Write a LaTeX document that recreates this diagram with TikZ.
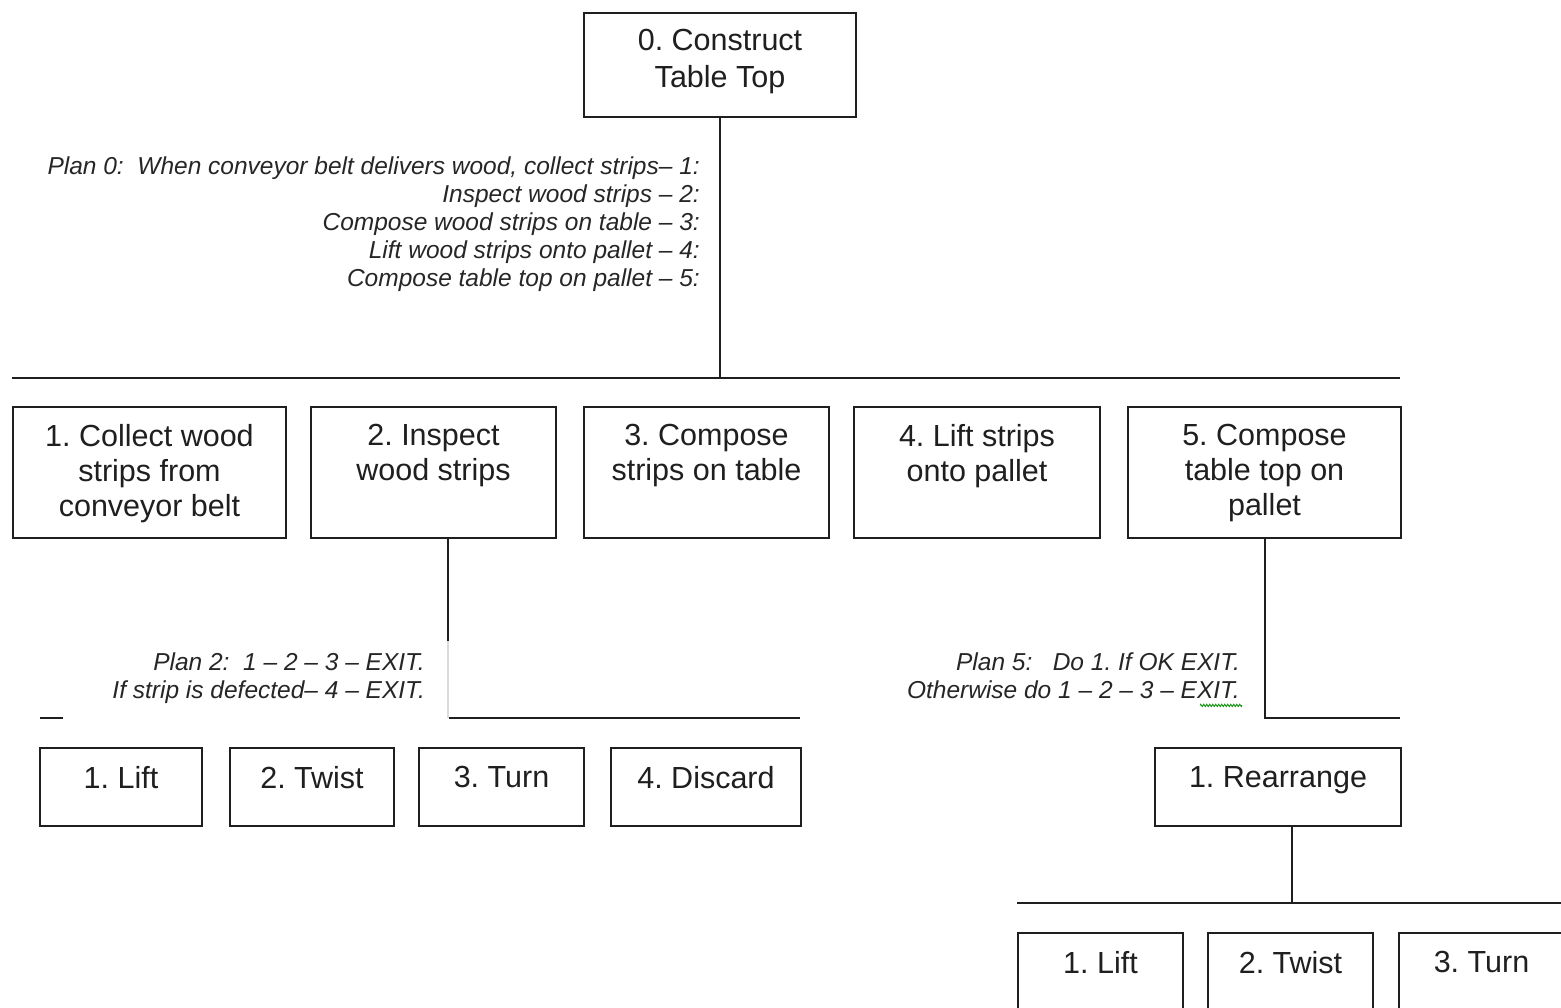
\documentclass[tikz,border=0pt]{standalone}
\usepackage{fontspec}
\setmainfont{Liberation Sans}
\usetikzlibrary{decorations.pathmorphing}
\frenchspacing
\begin{document}
\begin{tikzpicture}[x=1pt,y=-1pt,
  ink/.style={draw=black!88, line width=2pt},
  box/.style={ink, rectangle, inner sep=0pt, fill=white, anchor=north west},
  boxtxt/.style={anchor=north, inner sep=0pt, align=center,
    font=\fontsize{30.5}{35}\selectfont, text=black!88},
  plantxt/.style={anchor=north east, inner sep=0pt, align=right,
    font=\fontsize{24.5}{28}\selectfont\itshape, text=black!85},
  bus/.style={ink, line width=2.2pt},
  link/.style={ink}]
\useasboundingbox (0,0) rectangle (1561,1008);
\clip (0,0) rectangle (1561,1008);

% bus bars
\coordinate (bus1L) at (12,378);   \coordinate (bus1R) at (1400,378);
\coordinate (bus2L) at (40,718);   \coordinate (bus2R) at (800,718);
\coordinate (bus5R) at (1400,718);
\coordinate (bus6L) at (1017,903); \coordinate (bus6R) at (1563,903);

% top task
\node[box, minimum width=272pt, minimum height=104pt] (b0) at (583,12) {};
\node[boxtxt, font=\fontsize{30.5}{37}\selectfont] (b0t) at ([yshift=-17pt]b0.north) {0. Construct\\Table Top};

% first level
\node[box, minimum width=273pt, minimum height=131pt] (b1) at (12,406) {};
\node[box, minimum width=245pt, minimum height=131pt] (b2) at (310,406) {};
\node[box, minimum width=245pt, minimum height=131pt] (b3) at (583,406) {};
\node[box, minimum width=246pt, minimum height=131pt] (b4) at (853,406) {};
\node[box, minimum width=273pt, minimum height=131pt] (b5) at (1127,406) {};
\node[boxtxt] (b1t) at ([yshift=-18pt]b1.north) {1. Collect wood\\strips from\\conveyor belt};
\node[boxtxt] (b2t) at ([yshift=-18pt]b2.north) {2. Inspect\\wood strips};
\node[boxtxt] (b3t) at ([yshift=-18pt]b3.north) {3. Compose\\strips on table};
\node[boxtxt] (b4t) at ([yshift=-18pt]b4.north) {4. Lift strips\\onto pallet};
\node[boxtxt] (b5t) at ([yshift=-18pt]b5.north) {5. Compose\\table top on\\pallet};

% subtasks of 2
\node[box, minimum width=162pt, minimum height=78pt] (l1) at (39,747) {};
\node[box, minimum width=164pt, minimum height=78pt] (l2) at (229,747) {};
\node[box, minimum width=165pt, minimum height=78pt] (l3) at (418,747) {};
\node[box, minimum width=190pt, minimum height=78pt] (l4) at (610,747) {};
\node[boxtxt] (l1t) at ([yshift=-19pt]l1.north) {1. Lift};
\node[boxtxt] (l2t) at ([yshift=-19pt]l2.north) {2. Twist};
\node[boxtxt] (l3t) at ([yshift=-19pt]l3.north) {3. Turn};
\node[boxtxt] (l4t) at ([yshift=-19pt]l4.north) {4. Discard};

% subtask of 5
\node[box, minimum width=246pt, minimum height=78pt] (r1) at (1154,747) {};
\node[boxtxt] (r1t) at ([yshift=-19pt]r1.north) {1. Rearrange};

% subtasks of rearrange
\node[box, minimum width=165pt, minimum height=80pt] (m1) at (1017,932) {};
\node[box, minimum width=165pt, minimum height=80pt] (m2) at (1207,932) {};
\node[box, minimum width=165pt, minimum height=80pt] (m3) at (1398,932) {};
\node[boxtxt] (m1t) at ([yshift=-19pt]m1.north) {1. Lift};
\node[boxtxt] (m2t) at ([yshift=-19pt]m2.north) {2. Twist};
\node[boxtxt] (m3t) at ([yshift=-19pt]m3.north) {3. Turn};

% bars and connectors
\draw[bus] (bus1L) -- (bus1R);
\draw[bus] (bus2L) -- (bus2R);
\draw[bus] (bus6L) -- (bus6R);
\draw[link] (b0.south) -- (b0.south |- bus1L);
\draw[link] ([xshift=14.5pt]b2.south) -- ([xshift=14.5pt]b2.south |- bus2L);
\draw[link] (b5.south) -- (b5.south |- bus5R) -- (bus5R);
\draw[link] ([xshift=14pt]r1.south) -- ([xshift=14pt]r1.south |- bus6L);

% plan 2 sits on an opaque text box over the bar
\fill[white] (63,641) rectangle (449,721);
\draw[black!14, line width=1.5pt] (448,641) -- (448,718);

% plans
\node[plantxt] (p0) at (700,157) {Plan 0:\ \ When conveyor belt delivers wood, collect strips– 1:\\
  Inspect wood strips – 2:\\Compose wood strips on table – 3:\\
  Lift wood strips onto pallet – 4:\\Compose table top on pallet – 5:};
\node[plantxt] (p2) at (425,653) {Plan 2:\ \ 1 – 2 – 3 – EXIT.\\If strip is defected– 4 – EXIT.};
\node[plantxt] (p5) at (1240,653) {Plan 5:\ \ \ Do 1. If OK EXIT.\\Otherwise do 1 – 2 – 3 – EXIT.};
\draw[green!55!black, line width=0.8pt, decorate,
  decoration={zigzag, segment length=3pt, amplitude=1.2pt}]
  ([xshift=-40pt,yshift=-6pt]p5.south east) -- ([xshift=2pt,yshift=-6pt]p5.south east);
\end{tikzpicture}
\end{document}
